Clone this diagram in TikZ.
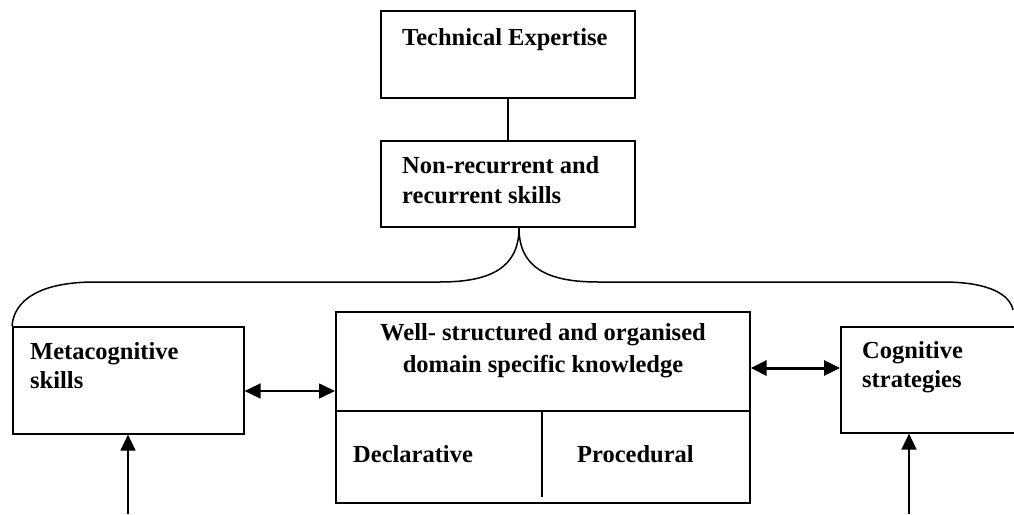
\documentclass[tikz,border=0pt]{standalone}
\usepackage{fontspec}
\setmainfont{Liberation Serif}
\usetikzlibrary{arrows.meta,calc}
\begin{document}
\begin{tikzpicture}[x=1pt,y=-1pt,
  box/.style={draw=black,line width=1.6pt,rectangle,inner sep=0pt,anchor=north west},
  lbl/.style={font=\fontsize{24.5}{29}\selectfont\bfseries,inner sep=0pt,anchor=base west},
  clbl/.style={font=\fontsize{24.5}{29}\selectfont\bfseries,inner sep=0pt,anchor=base},
  conn/.style={line width=1.6pt},
  tip/.style={-{Triangle[length=16pt,width=15pt]}},
  dtip/.style={{Triangle[length=16pt,width=15pt]}-{Triangle[length=16pt,width=15pt]}}]
\useasboundingbox (0,0) rectangle (1014,514);
\clip (0,0) rectangle (1014,514);
% boxes
\node[box,minimum width=254pt,minimum height=87pt] (te) at (380,10) {};
\node[box,minimum width=254pt,minimum height=86pt] (nr) at (380,140) {};
\node[box,minimum width=231pt,minimum height=107pt] (meta) at (12,326) {};
\node[box,minimum width=414pt,minimum height=191pt] (ctr) at (335,311) {};
\node[box,minimum width=190pt,minimum height=106pt] (cog) at (840,326) {};
% texts
\node[lbl] (tet) at (402,45) {Technical Expertise};
\node[lbl] (nr1) at (402,173) {Non-recurrent and};
\node[lbl] (nr2) at (402,203) {recurrent skills};
\node[lbl] (m1) at (30,359) {Metacognitive};
\node[lbl] (m2) at (30,388) {skills};
\node[clbl] (c1) at (543,340) {Well- structured and organised};
\node[clbl] (c2) at (543,372) {domain specific knowledge};
\node[lbl] (dec) at (353,462) {Declarative};
\node[lbl] (pro) at (577,462) {Procedural};
\node[lbl] (g1) at (862,358) {Cognitive};
\node[lbl] (g2) at (862,387) {strategies};
% inner dividers
\coordinate (dl) at (335,411);
\coordinate (dr) at (749,411);
\coordinate (vt) at (542,411);
\coordinate (vb) at (542,497);
\draw[line width=1.2pt] (dl) -- (dr);
\draw[line width=1.2pt] (vt) -- (vb);
% connectors
\draw[conn] (te.south) -- (nr.north);
\coordinate (ya) at (0,391);
\coordinate (yb) at (0,368);
\draw[conn,dtip] (meta.east |- ya) -- (ctr.west |- ya);
\draw[line width=3pt,dtip] (ctr.east |- yb) -- (cog.west |- yb);
\coordinate (b1) at (128,514);
\coordinate (b2) at (909,514);
\draw[conn,tip] (b1) -- (b1 |- meta.south);
\draw[conn,tip] (b2) -- (b2 |- cog.south);
% brace
\coordinate (cusp) at (519,228);
\coordinate (lend) at (12,326);
\coordinate (rend) at (1013,310);
\draw[line width=1.5pt] (cusp) .. controls (519,268) and (490,282) .. (440,282) -- (95,282) .. controls (40,282) and (14,300) .. (lend);
\draw[line width=1.5pt] (cusp) .. controls (519,268) and (548,282) .. (598,282) -- (943,282) .. controls (990,282) and (1010,295) .. (rend);
\end{tikzpicture}
\end{document}
